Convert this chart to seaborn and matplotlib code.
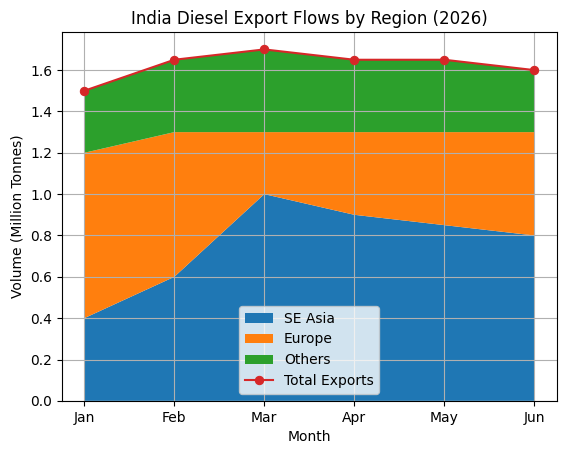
import matplotlib
matplotlib.use("Agg")
import matplotlib.pyplot as plt
import seaborn as sns
import pandas as pd

# data
months = ["Jan", "Feb", "Mar", "Apr", "May", "Jun"]
se_asia = [0.4, 0.6, 1.0, 0.9, 0.85, 0.8]
europe = [0.8, 0.7, 0.3, 0.4, 0.45, 0.5]
others = [0.3, 0.35, 0.4, 0.35, 0.35, 0.3]
total = [a + b + c for a, b, c in zip(se_asia, europe, others)]

df = pd.DataFrame({"Month": months, "Total": total})

fig, ax = plt.subplots(figsize=(5.67, 4.55), dpi=100)
fig.subplots_adjust(left=0.109, right=0.982, top=0.930, bottom=0.119)

x = list(range(len(months)))
ax.stackplot(x, se_asia, europe, others,
             labels=["SE Asia", "Europe", "Others"],
             colors=["#1f77b4", "#ff7f0e", "#2ca02c"])
sns.lineplot(x=x, y=df["Total"], marker="o", color="#d62728",
             label="Total Exports", ax=ax, markeredgecolor="#d62728",
             markersize=6, linewidth=1.5)

ax.set_xticks(x)
ax.set_xticklabels(months)
ax.set_title("India Diesel Export Flows by Region (2026)")
ax.set_xlabel("Month")
ax.set_ylabel("Volume (Million Tonnes)")
ax.grid(True)
ax.legend(loc="lower center")

fig.savefig("out.png", dpi=100)
